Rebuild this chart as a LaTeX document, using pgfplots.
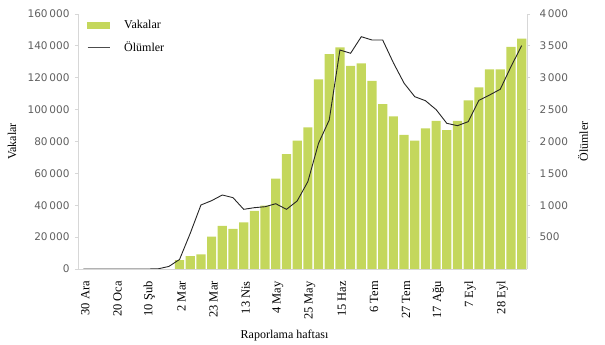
\documentclass[border=0pt]{standalone}
\usepackage{fontspec}
\setmainfont{Liberation Serif}
\setsansfont{DejaVu Sans}
\usepackage{pgfplots}
\pgfplotsset{compat=1.18}
\definecolor{barcol}{RGB}{196,215,92}
\definecolor{tickgray}{RGB}{95,95,95}
\definecolor{axgray}{RGB}{215,215,215}
\begin{document}
\begin{tikzpicture}
\useasboundingbox (-78pt,-76pt) rectangle (527pt,269pt);
\pgfplotsset{
  base/.style={
    scale only axis, width=449pt, height=255pt,
    xmin=-0.5, xmax=41.5, ymin=0,
    /pgf/number format/fixed,
    /pgf/number format/precision=0,
    /pgf/number format/assume math mode=true,
    /pgf/number format/1000 sep={\,},
    scaled y ticks=false,
    axis line style={draw=axgray, line width=0.8pt},
    tick align=outside, major tick length=3pt,
    ytick style={draw=axgray, line width=0.8pt},
    yticklabel style={font=\sffamily\fontsize{10.5}{12}\selectfont, text=tickgray},
    label style={font=\rmfamily\fontsize{12}{14}\selectfont},
  }
}
\begin{axis}[base,
  ymax=160000,
  axis y line*=left, axis x line*=bottom,
  ytick={0,20000,...,160000},
  yticklabel style={xshift=-2pt},
  xtick={0,3,...,39},
  xticklabels={30 Ara,20 Oca,10 Şub,2 Mar,23 Mar,13 Nis,4 May,25 May,15 Haz,6 Tem,27 Tem,17 Ağu,7 Eyl,28 Eyl},
  xtick style={draw=none},
  xticklabel style={rotate=90, anchor=east, inner sep=0pt, font=\rmfamily\fontsize{12.5}{14}\selectfont, text=black, xshift=-9pt, yshift=-2pt},
  ylabel={Vakalar},
  ylabel style={at={(axis description cs:-0.147,0.5)}, anchor=center},
  xlabel={Raporlama haftası},
  xlabel style={at={(axis description cs:0.46,0)}, yshift=-67pt, anchor=center},
]
\addplot[ybar, bar width=0.86, fill=barcol, draw=none] coordinates {
(9,5600) (10,8000) (11,9200) (12,20300) (13,27000) (14,25100) (15,29300)
(16,36400) (17,39700) (18,56700) (19,72100) (20,80500) (21,88900) (22,119000)
(23,134900) (24,139100) (25,127400) (26,129000) (27,118100) (28,103500)
(29,95800) (30,84100) (31,80500) (32,88300) (33,92900) (34,87200) (35,92900)
(36,105800) (37,114000) (38,125300) (39,125300) (40,139300) (41,144500)
};
\end{axis}
\begin{axis}[base,
  ymax=4000,
  axis y line*=right, axis x line=none,
  ytick={500,1000,...,4000},
  yticklabel style={xshift=6pt},
  ylabel={Ölümler},
  ylabel style={at={(axis description cs:1.1247,0.5)}, anchor=center},
  legend style={draw=none, fill=none, at={(axis description cs:0.02,0.983)}, anchor=north west,
    font=\rmfamily\fontsize{12}{14}\selectfont, row sep=7.5pt, inner sep=0pt,
    /tikz/every odd column/.append style={column sep=12pt}},
  legend cell align=left,
]
\addlegendimage{legend image code/.code={\fill[barcol] (0pt,-3pt) rectangle (22pt,3pt);}}
\addlegendentry{Vakalar}
\addplot[black!85, line width=0.9pt, mark=none,
  legend image code/.code={\draw[black!70, line width=1pt] (0pt,0pt) -- (22pt,0pt);}] coordinates {
(0,0) (1,0) (2,0) (3,0) (4,0) (5,0) (6,0) (7,3) (8,40) (9,150) (10,560)
(11,1004) (12,1072) (13,1161) (14,1119) (15,936) (16,962) (17,977) (18,1024)
(19,936) (20,1067) (21,1370) (22,1972) (23,2337) (24,3435) (25,3384) (26,3644)
(27,3592) (28,3592) (29,3235) (30,2915) (31,2703) (32,2640) (33,2500) (34,2285)
(35,2248) (36,2311) (37,2645) (38,2729) (39,2820) (40,3174) (41,3503)
};
\addlegendentry{Ölümler}
\end{axis}
\end{tikzpicture}
\end{document}
